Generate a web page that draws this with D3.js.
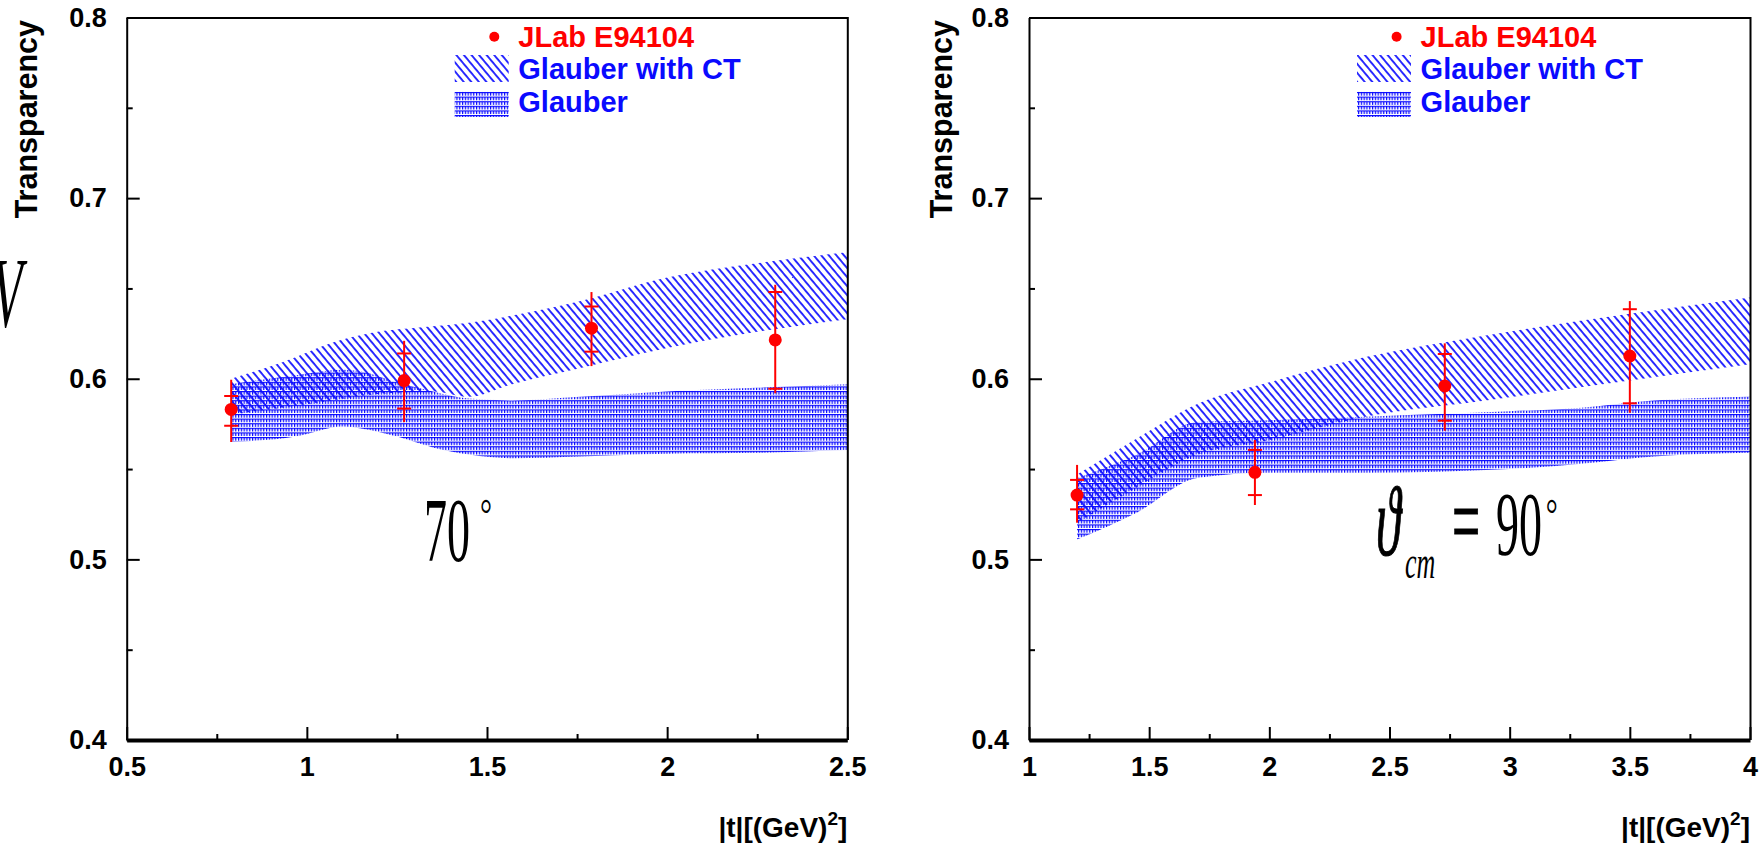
<!DOCTYPE html>
<html>
<head>
<meta charset="utf-8">
<script src="https://cdn.jsdelivr.net/npm/d3@7"></script>
<style>
body { margin: 0; background: #fff; }
svg { display: block; }
.axis text { font-family: "Liberation Sans", Arial, Helvetica, sans-serif; font-weight: bold; font-size: 27px; fill: #000; }
.lab { font-family: "Liberation Sans", Arial, Helvetica, sans-serif; font-weight: bold; }
.tm { font-family: "Liberation Serif", "Times New Roman", "DejaVu Serif", serif; fill: #000; }
</style>
</head>
<body>
<script>
// axis ticks
var yTicks = [0.4, 0.5, 0.6, 0.7, 0.8];
var yMinor = [0.45, 0.55, 0.65, 0.75];
var leftXTicks = [0.5, 1, 1.5, 2, 2.5];
var leftXMinor = [0.75, 1.25, 1.75, 2.25];
var rightXTicks = [1, 1.5, 2, 2.5, 3, 3.5, 4];
var rightXMinor = [1.25, 1.75, 2.25, 2.75, 3.25, 3.75];

var legendLabels = ["JLab E94104", "Glauber with CT", "Glauber"];

// 70 deg panel: data points
var left_t = [0.79, 1.27, 1.79, 2.30];
var left_T = [0.583, 0.599, 0.628, 0.6215];
var left_statHi = [0.5905, 0.614, 0.640, 0.648];
var left_statLo = [0.574, 0.5835, 0.615, 0.5945];
var left_totHi = [0.5995, 0.621, 0.648, 0.652];
var left_totLo = [0.565, 0.576, 0.607, 0.592];
// 70 deg panel: Glauber with CT band
var leftCT_t = [0.79, 0.93, 1.07, 1.17, 1.35, 1.45, 1.57, 1.76, 2.0, 2.25, 2.5];
var leftCT_hi = [0.600, 0.609, 0.620, 0.625, 0.629, 0.631, 0.635, 0.643, 0.656, 0.664, 0.670];
var leftCT_lo = [0.580, 0.584, 0.588, 0.591, 0.593, 0.590, 0.597, 0.606, 0.617, 0.626, 0.633];
// 70 deg panel: Glauber band
var leftGl_t = [0.79, 0.97, 1.1, 1.15, 1.25, 1.35, 1.45, 1.57, 1.76, 2.0, 2.25, 2.5];
var leftGl_hi = [0.597, 0.602, 0.605, 0.604, 0.598, 0.593, 0.589, 0.588, 0.590, 0.593, 0.595, 0.597];
var leftGl_lo = [0.565, 0.568, 0.5735, 0.5725, 0.568, 0.562, 0.558, 0.556, 0.557, 0.5585, 0.559, 0.5605];

// 90 deg panel: data points
var right_t = [1.2, 1.94, 2.73, 3.5];
var right_T = [0.5356, 0.5482, 0.596, 0.6126];
var right_statHi = [0.544, 0.5606, 0.6137, 0.6385];
var right_statLo = [0.5277, 0.5356, 0.5768, 0.5864];
var right_totHi = [0.5523, 0.5661, 0.6196, 0.643];
var right_totLo = [0.5203, 0.5301, 0.5712, 0.5812];
// 90 deg panel: Glauber with CT band
var rightCT_t = [1.2, 1.45, 1.7, 2.0, 2.4, 2.9, 3.5, 4.0];
var rightCT_hi = [0.547, 0.567, 0.586, 0.598, 0.612, 0.624, 0.636, 0.645];
var rightCT_lo = [0.520, 0.540, 0.558, 0.566, 0.579, 0.588, 0.599, 0.608];
// 90 deg panel: Glauber band
var rightGl_t = [1.2, 1.45, 1.7, 2.0, 2.4, 3.0, 3.3, 3.6, 4.0];
var rightGl_hi = [0.545, 0.558, 0.576, 0.577, 0.579, 0.582, 0.584, 0.588, 0.590];
var rightGl_lo = [0.511, 0.526, 0.545, 0.548, 0.548, 0.550, 0.553, 0.557, 0.559];

var yTop = 17.5, yBottom = 740;
var blue = "#0a0aff", red = "#ff0000";

var svg = d3.select("body").append("svg").attr("width", 1760).attr("height", 848);
var defs = svg.append("defs");

var ct = defs.append("pattern").attr("id", "ctHatch")
  .attr("patternUnits", "userSpaceOnUse").attr("width", 5.8).attr("height", 10)
  .attr("patternTransform", "rotate(-40)");
ct.append("line").attr("x1", 1).attr("y1", 0).attr("x2", 1).attr("y2", 10)
  .attr("stroke", blue).attr("stroke-width", 1.7);

var gl = defs.append("pattern").attr("id", "glHatch")
  .attr("patternUnits", "userSpaceOnUse").attr("width", 2.8).attr("height", 4.6);
gl.append("path").attr("d", "M0,0.6H2.8M0.6,0V3.6")
  .attr("stroke", blue).attr("stroke-width", 1.2).attr("fill", "none");

var zip = function(ts, lo, hi) {
  return ts.map(function(t, i) { return {t: t, lo: lo[i], hi: hi[i]}; });
}

var makePanel = function(p) {
  var g = svg.append("g");
  var x = d3.scaleLinear().domain(p.domain).range([p.left, p.right]);
  var y = d3.scaleLinear().domain([0.4, 0.8]).range([yBottom, yTop]);

  g.append("clipPath").attr("id", p.id + "clip").append("rect")
    .attr("x", p.left).attr("y", yTop).attr("width", p.right - p.left).attr("height", yBottom - yTop);

  var area = d3.area()
    .x(function(d) { return x(d.t); })
    .y0(function(d) { return y(d.lo); })
    .y1(function(d) { return y(d.hi); })
    .curve(d3.curveMonotoneX);

  var plot = g.append("g").attr("clip-path", "url(#" + p.id + "clip)");
  plot.append("path").datum(zip(p.ctT, p.ctLo, p.ctHi)).attr("d", area).attr("fill", "url(#ctHatch)");
  plot.append("path").datum(zip(p.glT, p.glLo, p.glHi)).attr("d", area).attr("fill", "url(#glHatch)");

  // data points with two error bars
  var pts = p.t.map(function(t, i) {
    return {t: t, v: p.T[i], sLo: p.sLo[i], sHi: p.sHi[i], eLo: p.eLo[i], eHi: p.eHi[i]};
  });
  var pt = plot.selectAll(".pt").data(pts).enter().append("g").attr("class", "pt");
  pt.append("line")
    .attr("x1", function(d) { return x(d.t); }).attr("x2", function(d) { return x(d.t); })
    .attr("y1", function(d) { return y(d.eLo); }).attr("y2", function(d) { return y(d.eHi); })
    .attr("stroke", red).attr("stroke-width", 2);
  ["sLo", "sHi"].forEach(function(k) {
    pt.append("line")
      .attr("x1", function(d) { return x(d.t) - 7; }).attr("x2", function(d) { return x(d.t) + 7; })
      .attr("y1", function(d) { return y(d[k]); }).attr("y2", function(d) { return y(d[k]); })
      .attr("stroke", red).attr("stroke-width", 2);
  });
  pt.append("circle")
    .attr("cx", function(d) { return x(d.t); }).attr("cy", function(d) { return y(d.v); })
    .attr("r", 6.5).attr("fill", red);

  // axes
  var xa = g.append("g").attr("class", "axis").attr("transform", "translate(0," + yBottom + ")")
    .call(d3.axisBottom(x).tickValues(p.xTicks).tickFormat(String).tickSize(-13).tickSizeOuter(0).tickPadding(17));
  xa.select(".domain").attr("stroke-width", 4);
  xa.selectAll(".tick line").attr("stroke-width", 2);
  var xm = g.append("g").attr("transform", "translate(0," + yBottom + ")")
    .call(d3.axisBottom(x).tickValues(p.xMinor).tickFormat("").tickSize(-6).tickSizeOuter(0));
  xm.select(".domain").remove();
  xm.selectAll(".tick line").attr("stroke-width", 2);

  var ya = g.append("g").attr("class", "axis").attr("transform", "translate(" + p.left + ",0)")
    .call(d3.axisLeft(y).tickValues(yTicks).tickFormat(String).tickSize(-13).tickSizeOuter(0).tickPadding(20));
  ya.select(".domain").attr("stroke-width", 2);
  ya.selectAll(".tick line").attr("stroke-width", 2);
  var ym = g.append("g").attr("transform", "translate(" + p.left + ",0)")
    .call(d3.axisLeft(y).tickValues(yMinor).tickFormat("").tickSize(-6).tickSizeOuter(0));
  ym.select(".domain").remove();
  ym.selectAll(".tick line").attr("stroke-width", 2);

  g.append("path")
    .attr("d", "M" + p.left + "," + (yTop + 0.5) + "H" + (p.right + 0.5) + "V" + yBottom)
    .attr("fill", "none").attr("stroke", "#000").attr("stroke-width", 2);

  g.append("text").attr("class", "lab")
    .attr("transform", "translate(" + p.yLabelX + ",20) rotate(-90)")
    .attr("text-anchor", "end").style("font-size", "30.5px").text("Transparency");

  var xt = g.append("text").attr("class", "lab").attr("x", p.right).attr("y", 837)
    .attr("text-anchor", "end").style("font-size", "28px");
  xt.append("tspan").text("|t|[(GeV)");
  xt.append("tspan").attr("dy", -12).style("font-size", "19px").text("2");
  xt.append("tspan").attr("dy", 12).text("]");

  // legend
  var lx = p.left;
  g.append("circle").attr("cx", lx + 367.6).attr("cy", 36.7).attr("r", 5).attr("fill", red);
  g.append("rect").attr("x", lx + 328).attr("y", 55).attr("width", 54).attr("height", 27).attr("fill", "url(#ctHatch)");
  g.append("rect").attr("x", lx + 328).attr("y", 91).attr("width", 54).attr("height", 26).attr("fill", "url(#glHatch)");
  g.selectAll(".leg").data(legendLabels).enter().append("text").attr("class", "lab")
    .attr("x", lx + 391.6).attr("y", function(d, i) { return 46.7 + i * 32.6; })
    .style("font-size", "29px")
    .attr("fill", function(d, i) { return i == 0 ? red : blue; })
    .text(function(d) { return d; });
}

var stretched = function(x, y, sy, size, txt, italic, thick) {
  svg.append("g").attr("transform", "translate(" + x + "," + y + ") scale(1," + sy + ")")
    .append("text").attr("class", "tm").style("font-size", size + "px")
    .style("font-style", italic ? "italic" : "normal")
    .attr("stroke", thick ? "#000" : "none").attr("stroke-width", thick || 0)
    .text(txt);
}
var degree = function(cx, cy) {
  svg.append("g").attr("transform", "translate(" + cx + "," + cy + ") scale(1,1.5)")
    .append("text").attr("class", "tm").attr("text-anchor", "middle").attr("y", 16)
    .style("font-size", "30px").text("°");
}

makePanel({id: "l", left: 126.7, right: 847.3, domain: [0.5, 2.5], yLabelX: 37,
  xTicks: leftXTicks, xMinor: leftXMinor,
  t: left_t, T: left_T, sLo: left_statLo, sHi: left_statHi, eLo: left_totLo, eHi: left_totHi,
  ctT: leftCT_t, ctLo: leftCT_lo, ctHi: leftCT_hi, glT: leftGl_t, glLo: leftGl_lo, glHi: leftGl_hi});

makePanel({id: "r", left: 1029, right: 1750, domain: [1, 4], yLabelX: 951.5,
  xTicks: rightXTicks, xMinor: rightXMinor,
  t: right_t, T: right_T, sLo: right_statLo, sHi: right_statHi, eLo: right_totLo, eHi: right_totHi,
  ctT: rightCT_t, ctLo: rightCT_lo, ctHi: rightCT_hi, glT: rightGl_t, glLo: rightGl_lo, glHi: rightGl_hi});

// annotations pasted on the figure
stretched(424, 561, 2, 46, "70", false, 0);
degree(486, 505);
stretched(1376, 555, 2, 50, "ϑ", true, 0.6);
stretched(1405, 578, 1.75, 26, "cm", true, 0);
stretched(1452, 555, 2, 50, "=", false, 0.5);
stretched(1496, 555, 2, 46, "90", false, 0);
degree(1551.7, 505);
stretched(-8, 326, 2, 50, "V", true, 0);
</script>
</body>
</html>
